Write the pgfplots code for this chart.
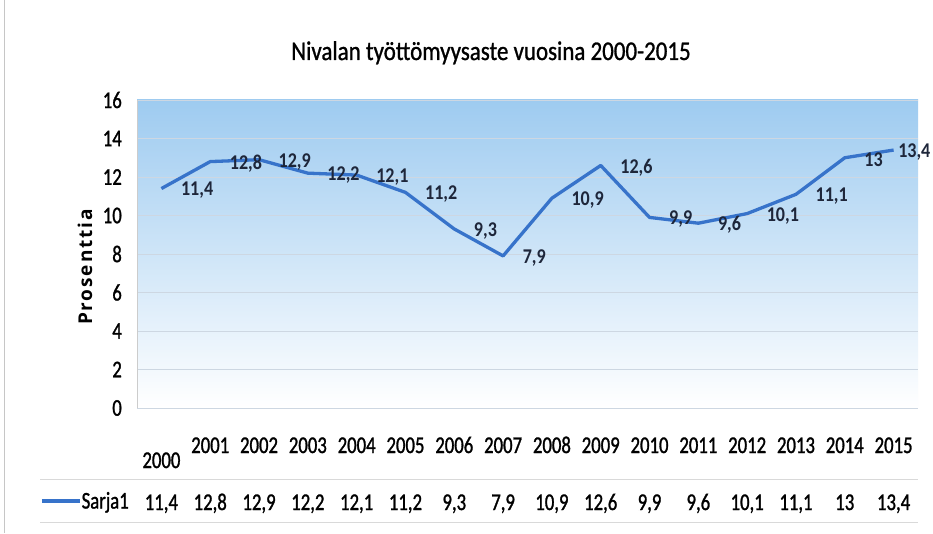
\documentclass[border=0pt]{standalone}
\usepackage{pgfplots}
\pgfplotsset{compat=1.18}
\usepackage{fontspec}
\setmainfont{Carlito}
\newfontfamily\condf{Carlito}[FakeStretch=0.78, FakeBold=1.2]
\newfontfamily\titlef{Carlito}[FakeStretch=0.85, FakeBold=1.0]
\newfontfamily\labf{Carlito}[FakeStretch=0.86]
\newfontfamily\ylabf{Open Sans}[LetterSpace=10]
\definecolor{linec}{RGB}{55,115,202}
\definecolor{bgtop}{RGB}{158,203,240}
\definecolor{bgmid}{RGB}{212,232,249}
\definecolor{gridc}{RGB}{205,215,226}
\pgfplotstableread{
x y lab
0 11.4 11,4
1 12.8 12,8
2 12.9 12,9
3 12.2 12,2
4 12.1 12,1
5 11.2 11,2
6 9.3 9,3
7 7.9 7,9
8 10.9 10,9
9 12.6 12,6
10 9.9 9,9
11 9.6 9,6
12 10.1 10,1
13 11.1 11,1
14 13 13
15 13.4 \kern-15pt13,4
}\datatab
\begin{document}
\begin{tikzpicture}[x=1pt,y=1pt]
\useasboundingbox (0,0) rectangle (933,533);
\fill[white] (0,0) rectangle (933,533);
\draw[gray!45, line width=1pt] (4,0) -- (4,533);
\draw[gray!30, line width=0.8pt] (40,54) -- (918,54);
\draw[gray!30, line width=0.8pt] (40,11) -- (918,11);
\begin{axis}[
  at={(137pt,125pt)}, anchor=south west, scale only axis,
  width=781pt, height=308pt,
  xmin=-0.5, xmax=15.5, ymin=0, ymax=16,
  ytick={0,2,...,16}, xtick={0,...,15},
  xticklabels={\raisebox{-15pt}{2000},2001,2002,2003,2004,2005,2006,2007,2008,2009,2010,2011,2012,2013,2014,2015},
  extra x ticks={0,...,15},
  extra x tick labels={\raisebox{-57pt}{11,4},\raisebox{-57pt}{12,8},\raisebox{-57pt}{12,9},\raisebox{-57pt}{12,2},\raisebox{-57pt}{12,1},\raisebox{-57pt}{11,2},\raisebox{-57pt}{9,3},\raisebox{-57pt}{7,9},\raisebox{-57pt}{10,9},\raisebox{-57pt}{12,6},\raisebox{-57pt}{9,9},\raisebox{-57pt}{9,6},\raisebox{-57pt}{10,1},\raisebox{-57pt}{11,1},\raisebox{-57pt}{13},\raisebox{-57pt}{13,4}},
  ymajorgrids, grid style={gridc, line width=0.9pt},
  axis line style={draw=none}, major tick length=0pt,
  axis background/.style={top color=bgtop, middle color=bgmid, bottom color=white},
  /pgf/number format/assume math mode=true,
  yticklabel style={font=\condf\fontsize{24}{28}\selectfont, anchor=east, inner sep=0pt, xshift=-15pt},
  xticklabel style={font=\condf\fontsize{24}{28}\selectfont, anchor=base, inner sep=0pt, yshift=-45pt},
  clip=false,
  legend style={at={(-0.1242,-0.302)}, anchor=west, draw=none, fill=none, inner sep=0pt,
    font=\condf\fontsize{24}{28}\selectfont, nodes={inner sep=0pt},
    /tikz/every even column/.append style={column sep=2pt}},
  legend image code/.code={\draw[linec, line width=3.5pt] (0pt,0pt) -- (38pt,0pt);},
]
\draw[gray!40] (rel axis cs:0,0) -- (rel axis cs:0,1);
\addplot[linec, line width=3.3pt, line join=round, mark=none,
  nodes near coords={\pgfplotspointmeta}, point meta=explicit symbolic,
  nodes near coords style={anchor=west, inner sep=0pt, xshift=18pt, yshift=-2pt,
    font=\labf\bfseries\fontsize{21}{24}\selectfont, text={rgb,255:red,30;green,38;blue,58}}]
  table[x=x, y=y, meta=lab] {\datatab};
\addlegendentry{Sarja1}
\end{axis}
\node[font=\titlef\fontsize{27}{30}\selectfont, anchor=base] at (491,473) {Nivalan työttömyysaste vuosina 2000-2015};
\node[font=\ylabf\bfseries\fontsize{19}{22}\selectfont, rotate=90] at (85,266) {Prosenttia};
\end{tikzpicture}
\end{document}
